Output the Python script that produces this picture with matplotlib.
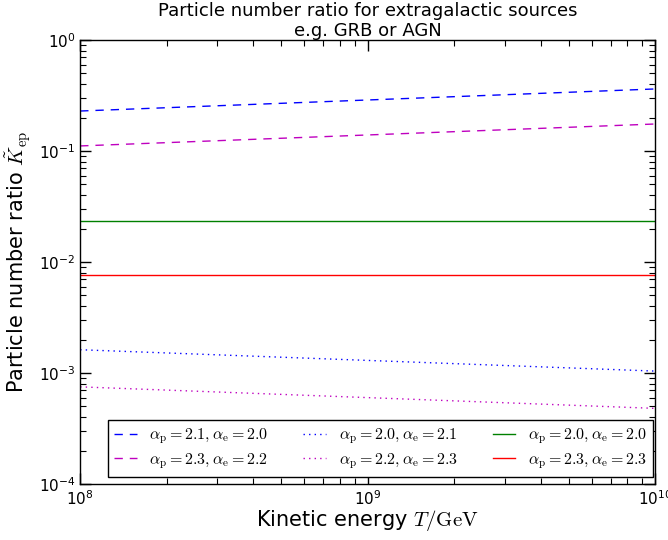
import numpy as np
import matplotlib
matplotlib.use("Agg")
import matplotlib.pyplot as plt

plt.rcParams['mathtext.fontset'] = 'cm'
plt.rcParams['xtick.direction'] = 'in'
plt.rcParams['ytick.direction'] = 'in'
plt.rcParams['xtick.top'] = True
plt.rcParams['ytick.right'] = True

# endpoints (T in GeV)
energy = [1e8, 1e10]
k_21_20 = [0.229, 0.362]
k_23_22 = [0.111, 0.175]
k_20_21 = [0.00162, 0.00104]
k_22_23 = [0.00075, 0.00048]
k_20_20 = [0.0234, 0.0234]
k_23_23 = [0.0076, 0.0076]

labels = [r"$\alpha_{\rm p}=2.1, \alpha_{\rm e}=2.0$",
          r"$\alpha_{\rm p}=2.3, \alpha_{\rm e}=2.2$",
          r"$\alpha_{\rm p}=2.0, \alpha_{\rm e}=2.1$",
          r"$\alpha_{\rm p}=2.2, \alpha_{\rm e}=2.3$",
          r"$\alpha_{\rm p}=2.0, \alpha_{\rm e}=2.0$",
          r"$\alpha_{\rm p}=2.3, \alpha_{\rm e}=2.3$"]

dash = (6, 5)
dot = (1, 3)

fig = plt.figure(figsize=(6.68, 5.4), dpi=100)
ax = fig.add_axes([0.12, 0.1037, 0.861, 0.8223])

ax.plot(energy, k_21_20, color='b', ls='--', dashes=dash, lw=1, label=labels[0])
ax.plot(energy, k_23_22, color='m', ls='--', dashes=dash, lw=1, label=labels[1])
ax.plot(energy, k_20_21, color='b', ls=':', dashes=dot, lw=1, label=labels[2])
ax.plot(energy, k_22_23, color='m', ls=':', dashes=dot, lw=1, label=labels[3])
ax.plot(energy, k_20_20, color='g', ls='-', lw=1, label=labels[4])
ax.plot(energy, k_23_23, color='r', ls='-', lw=1, label=labels[5])

ax.set_xscale('log')
ax.set_yscale('log')
ax.set_xlim(1e8, 1e10)
ax.set_ylim(1e-4, 1)
ax.tick_params(which='major', length=8, width=1, labelsize=11)
ax.tick_params(which='minor', length=4, width=0.8)
for s in ax.spines.values():
    s.set_linewidth(1)

ax.set_xlabel(r"Kinetic energy $T/{\rm GeV}$", fontsize=15, labelpad=0)
ax.set_ylabel(r"Particle number ratio $\tilde{K}_{\rm ep}$", fontsize=15)
ax.set_title("Particle number ratio for extragalactic sources\ne.g. GRB or AGN",
             fontsize=13, linespacing=1.15, pad=3)

leg = ax.legend(ncol=3, loc='lower right', bbox_to_anchor=(0.9965, 0.0158),
                borderaxespad=0, fontsize=11.5, fancybox=False,
                handlelength=1.4, handletextpad=0.8, columnspacing=2.2,
                labelspacing=0.3, borderpad=0.4, framealpha=1)
leg.get_frame().set_edgecolor('black')
leg.get_frame().set_linewidth(1)

fig.savefig("out.png", dpi=100)
